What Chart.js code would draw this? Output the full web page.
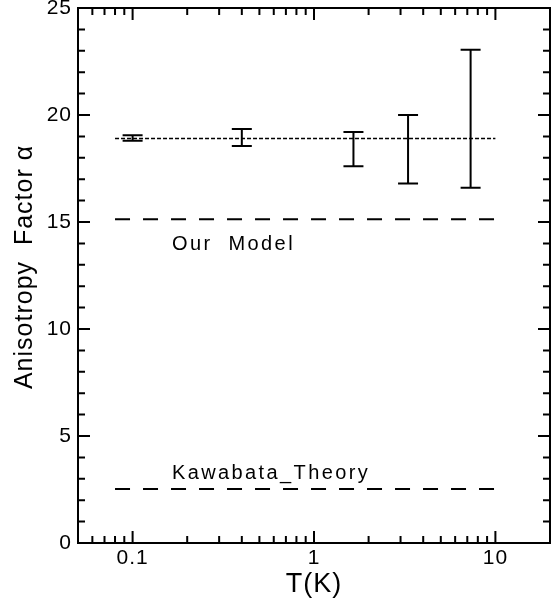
<!DOCTYPE html>
<html><head><meta charset="utf-8">
<script src="https://cdn.jsdelivr.net/npm/chart.js@4"></script>
<style>html,body{margin:0;padding:0;background:#fff}</style>
</head><body>
<canvas id="c" width="555" height="601"></canvas>
<script>
// ---- data ----
const temps = [0.1, 0.4, 1.65, 3.3, 7.3];
const alphaLow = [18.8, 18.55, 17.6, 16.8, 16.6];
const alphaHigh = [19.05, 19.35, 19.2, 20.0, 23.05];
const lineT = [0.08, 10];
const fitAlpha = [18.9, 18.9];
const ourModel = [15.13, 15.13];
const kawabata = [2.52, 2.52];
const xTickLabels = [0.1, 1, 10];
const yTickLabels = [0, 5, 10, 15, 20, 25];
const noteTexts = ['Our  Model', 'Kawabata_Theory'];
const noteT = [0.36, 0.58];
const noteAlpha = [13.97, 3.27];
const yTitle = 'Anisotropy  Factor α';
const xTitle = 'T(K)';

const FONT = '"Liberation Sans", Arial, sans-serif';

const pts = (ys) => lineT.map((t, i) => ({x: t, y: ys[i]}));

const decor = {
  id: 'decor',
  beforeDraw(chart) {
    chart.ctx.letterSpacing = '1px';
  },
  afterDatasetsDraw(chart) {
    const {ctx, chartArea: a, scales: {x, y}} = chart;
    ctx.save();
    ctx.strokeStyle = '#000';
    ctx.lineWidth = 2;
    // error bars
    temps.forEach((t, i) => {
      const px = x.getPixelForValue(t);
      const lo = y.getPixelForValue(alphaLow[i]);
      const hi = y.getPixelForValue(alphaHigh[i]);
      ctx.beginPath();
      ctx.moveTo(px, lo); ctx.lineTo(px, hi);
      ctx.moveTo(px - 10, lo); ctx.lineTo(px + 10, lo);
      ctx.moveTo(px - 10, hi); ctx.lineTo(px + 10, hi);
      ctx.stroke();
    });
    // frame
    ctx.strokeRect(a.left, a.top, a.right - a.left, a.bottom - a.top);
    // y ticks (inward, both sides)
    ctx.beginPath();
    for (let v = 0; v <= 25; v++) {
      const py = y.getPixelForValue(v);
      const len = v % 5 === 0 ? 12 : 7;
      ctx.moveTo(a.left, py); ctx.lineTo(a.left + len, py);
      ctx.moveTo(a.right, py); ctx.lineTo(a.right - len, py);
    }
    // x ticks (log, inward, both sides)
    for (let d = -2; d <= 1; d++) {
      for (let m = 1; m <= 9; m++) {
        const v = m * Math.pow(10, d);
        if (v < x.min - 1e-9 || v > x.max + 1e-9) continue;
        const px = x.getPixelForValue(v);
        const len = m === 1 ? 12 : 7;
        ctx.moveTo(px, a.bottom); ctx.lineTo(px, a.bottom - len);
        ctx.moveTo(px, a.top); ctx.lineTo(px, a.top + len);
      }
    }
    ctx.stroke();
    // annotations
    ctx.fillStyle = '#000';
    ctx.font = '20px ' + FONT;
    ctx.letterSpacing = '2.4px';
    ctx.textAlign = 'center';
    ctx.textBaseline = 'middle';
    noteTexts.forEach((txt, i) => {
      ctx.fillText(txt, x.getPixelForValue(noteT[i]), y.getPixelForValue(noteAlpha[i]));
    });
    // y axis title
    ctx.font = '25px ' + FONT;
    ctx.letterSpacing = '1px';
    ctx.translate(25, y.getPixelForValue(12.9));
    ctx.rotate(-Math.PI / 2);
    ctx.fillText(yTitle, 0, 0);
    ctx.restore();
  }
};

new Chart(document.getElementById('c'), {
  type: 'line',
  data: {
    datasets: [
      {data: pts(fitAlpha), borderColor: '#000', borderWidth: 1.5, borderDash: [4, 2], pointRadius: 0},
      {data: pts(ourModel), borderColor: '#000', borderWidth: 2, borderDash: [15, 13], pointRadius: 0},
      {data: pts(kawabata), borderColor: '#000', borderWidth: 2, borderDash: [15, 13], pointRadius: 0}
    ]
  },
  options: {
    responsive: false,
    animation: false,
    devicePixelRatio: 1,
    layout: {padding: {top: 8, right: 5, left: 0, bottom: 0}},
    plugins: {legend: {display: false}, tooltip: {enabled: false}},
    scales: {
      x: {
        type: 'logarithmic', min: 0.05, max: 20,
        grid: {display: false, drawTicks: false},
        border: {display: false},
        afterBuildTicks: (s) => { s.ticks = xTickLabels.map(v => ({value: v})); },
        afterFit: (s) => { s.height = 58; s.paddingLeft = 0; s.paddingRight = 0; },
        ticks: {color: '#000', font: {family: FONT, size: 21}, padding: 3, maxRotation: 0, autoSkip: false,
          callback: (v) => String(v)},
        title: {display: true, text: xTitle, color: '#000', font: {family: FONT, size: 27}, padding: {top: 0, bottom: 0}}
      },
      y: {
        type: 'linear', min: 0, max: 25,
        grid: {display: false, drawTicks: false},
        border: {display: false},
        afterBuildTicks: (s) => { s.ticks = yTickLabels.map(v => ({value: v})); },
        afterFit: (s) => { s.width = 78; s.paddingTop = 0; s.paddingBottom = 0; },
        ticks: {color: '#000', font: {family: FONT, size: 21}, padding: 6},
        title: {display: false}
      }
    }
  },
  plugins: [decor]
});
</script>
</body></html>
